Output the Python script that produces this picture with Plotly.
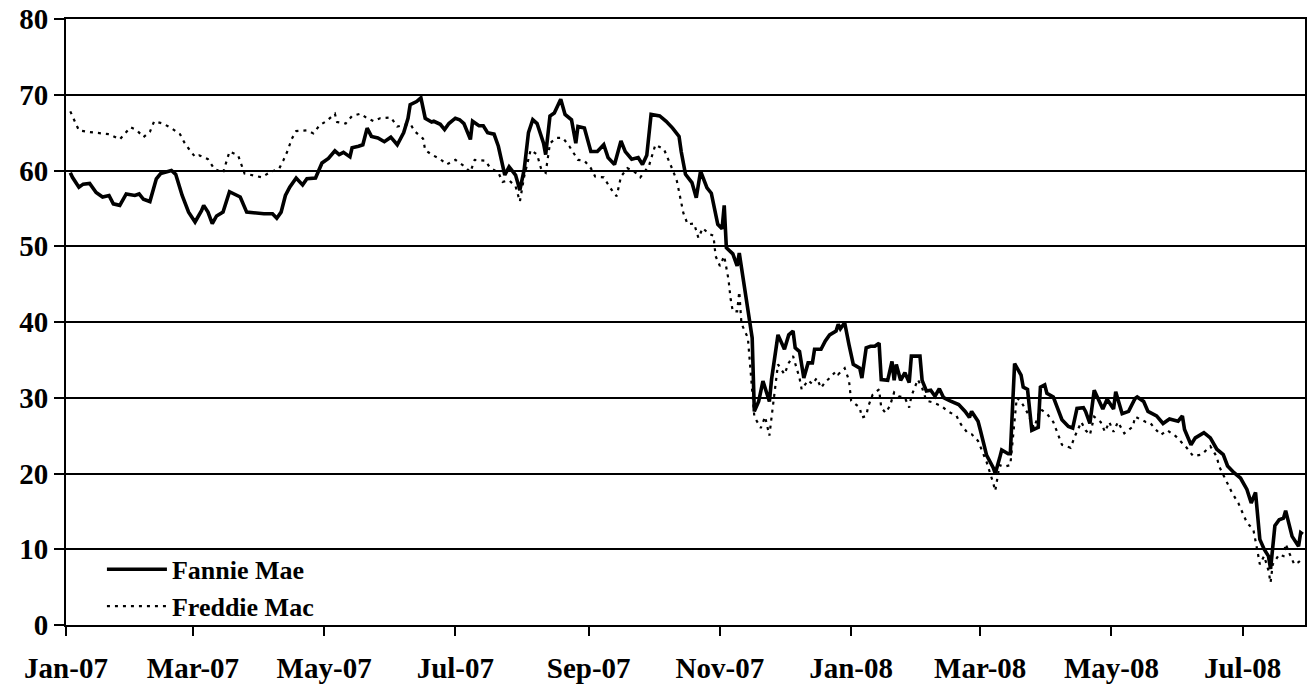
import plotly.graph_objects as go

fannie_dates = [
    "2007-01-03", "2007-01-04", "2007-01-07", "2007-01-09", "2007-01-12", "2007-01-15", "2007-01-18",
    "2007-01-21", "2007-01-23", "2007-01-26", "2007-01-29", "2007-02-02", "2007-02-04", "2007-02-06",
    "2007-02-09", "2007-02-12", "2007-02-14", "2007-02-19", "2007-02-21", "2007-02-24", "2007-02-27",
    "2007-03-02", "2007-03-05", "2007-03-06", "2007-03-08", "2007-03-10", "2007-03-12", "2007-03-15",
    "2007-03-18", "2007-03-21", "2007-03-23", "2007-03-26", "2007-03-29", "2007-04-03", "2007-04-07",
    "2007-04-09", "2007-04-11", "2007-04-13", "2007-04-15", "2007-04-18", "2007-04-21", "2007-04-23",
    "2007-04-27", "2007-04-30", "2007-05-03", "2007-05-06", "2007-05-08", "2007-05-10", "2007-05-13",
    "2007-05-14", "2007-05-17", "2007-05-19", "2007-05-21", "2007-05-23", "2007-05-26", "2007-05-29",
    "2007-06-01", "2007-06-04", "2007-06-07", "2007-06-09", "2007-06-10", "2007-06-13", "2007-06-15",
    "2007-06-17", "2007-06-20", "2007-06-21", "2007-06-24", "2007-06-26", "2007-06-28", "2007-07-01",
    "2007-07-03", "2007-07-05", "2007-07-08", "2007-07-09", "2007-07-12", "2007-07-14", "2007-07-16",
    "2007-07-19", "2007-07-21", "2007-07-22", "2007-07-24", "2007-07-26", "2007-07-29", "2007-07-31",
    "2007-08-02", "2007-08-04", "2007-08-06", "2007-08-08", "2007-08-11", "2007-08-12", "2007-08-14",
    "2007-08-16", "2007-08-19", "2007-08-21", "2007-08-24", "2007-08-26", "2007-08-27", "2007-08-30",
    "2007-09-02", "2007-09-05", "2007-09-08", "2007-09-10", "2007-09-13", "2007-09-16", "2007-09-18",
    "2007-09-21", "2007-09-24", "2007-09-26", "2007-09-28", "2007-09-30", "2007-10-04", "2007-10-07",
    "2007-10-10", "2007-10-13", "2007-10-14", "2007-10-16", "2007-10-19", "2007-10-21", "2007-10-23",
    "2007-10-26", "2007-10-28", "2007-10-31", "2007-11-02", "2007-11-03", "2007-11-04", "2007-11-07",
    "2007-11-09", "2007-11-10", "2007-11-12", "2007-11-14", "2007-11-16", "2007-11-17", "2007-11-19",
    "2007-11-21", "2007-11-24", "2007-11-25", "2007-11-28", "2007-12-01", "2007-12-03", "2007-12-05",
    "2007-12-06", "2007-12-08", "2007-12-10", "2007-12-12", "2007-12-14", "2007-12-15", "2007-12-18",
    "2007-12-20", "2007-12-22", "2007-12-25", "2007-12-26", "2007-12-27", "2007-12-29", "2007-12-31",
    "2008-01-02", "2008-01-05", "2008-01-06", "2008-01-08", "2008-01-10", "2008-01-12", "2008-01-14",
    "2008-01-15", "2008-01-18", "2008-01-20", "2008-01-21", "2008-01-22", "2008-01-24", "2008-01-26",
    "2008-01-28", "2008-01-29", "2008-02-02", "2008-02-03", "2008-02-05", "2008-02-07", "2008-02-09",
    "2008-02-11", "2008-02-13", "2008-02-16", "2008-02-18", "2008-02-20", "2008-02-23", "2008-02-25",
    "2008-02-26", "2008-02-29", "2008-03-01", "2008-03-03", "2008-03-04", "2008-03-07", "2008-03-08",
    "2008-03-10", "2008-03-11", "2008-03-14", "2008-03-15", "2008-03-17", "2008-03-20", "2008-03-21",
    "2008-03-23", "2008-03-25", "2008-03-28", "2008-03-29", "2008-03-31", "2008-04-01", "2008-04-04",
    "2008-04-06", "2008-04-08", "2008-04-11", "2008-04-13", "2008-04-15", "2008-04-18", "2008-04-19",
    "2008-04-21", "2008-04-23", "2008-04-25", "2008-04-27", "2008-04-29", "2008-05-01", "2008-05-02",
    "2008-05-03", "2008-05-05", "2008-05-06", "2008-05-09", "2008-05-12", "2008-05-13", "2008-05-16",
    "2008-05-18", "2008-05-20", "2008-05-22", "2008-05-25", "2008-05-28", "2008-06-01", "2008-06-03",
    "2008-06-04", "2008-06-07", "2008-06-09", "2008-06-13", "2008-06-16", "2008-06-19", "2008-06-22",
    "2008-06-24", "2008-06-27", "2008-06-30", "2008-07-03", "2008-07-05", "2008-07-07", "2008-07-08",
    "2008-07-09", "2008-07-11", "2008-07-13", "2008-07-14", "2008-07-15", "2008-07-16", "2008-07-18",
    "2008-07-20", "2008-07-21", "2008-07-23", "2008-07-24", "2008-07-27", "2008-07-28", "2008-07-29",
]
fannie_prices = [
    59.7, 59.1, 57.8, 58.2, 58.3, 57.1, 56.5,
    56.7, 55.6, 55.4, 56.9, 56.7, 56.9, 56.2,
    55.9, 58.9, 59.6, 60.0, 59.5, 56.7, 54.5,
    53.2, 54.7, 55.4, 54.5, 53.0, 54.0, 54.5,
    57.2, 56.8, 56.5, 54.5, 54.4, 54.3, 54.3,
    53.7, 54.5, 56.7, 57.8, 59.0, 58.1, 58.9,
    59.0, 61.0, 61.6, 62.6, 62.1, 62.4, 61.8,
    63.0, 63.2, 63.4, 65.6, 64.5, 64.3, 63.8,
    64.4, 63.4, 65.0, 66.9, 68.7, 69.1, 69.6,
    66.9, 66.4, 66.5, 66.1, 65.4, 66.2, 66.9,
    66.7, 66.2, 64.1, 66.5, 65.9, 65.9, 65.0,
    64.8, 63.2, 61.9, 59.4, 60.5, 59.4, 57.4,
    60.1, 65.0, 66.7, 66.2, 63.6, 62.1, 67.2,
    67.6, 69.4, 67.4, 66.7, 63.6, 65.8, 65.6,
    62.5, 62.5, 63.4, 61.7, 60.8, 63.9, 62.5,
    61.5, 61.7, 60.8, 62.0, 67.4, 67.2, 66.5,
    65.6, 64.5, 62.5, 59.5, 58.4, 56.4, 59.9,
    57.7, 57.0, 52.9, 52.3, 55.4, 49.8, 49.0,
    47.4, 49.1, 45.4, 41.0, 37.9, 28.2, 29.5,
    32.2, 29.5, 32.4, 38.3, 36.4, 38.3, 38.8,
    36.6, 36.1, 32.6, 34.6, 34.6, 36.4, 36.4,
    37.5, 38.3, 38.8, 39.7, 39.1, 39.9, 37.0,
    34.4, 33.9, 32.6, 36.6, 36.8, 36.8, 37.2,
    32.4, 32.3, 34.8, 32.3, 34.4, 32.3, 33.3,
    32.0, 35.5, 35.5, 32.3, 30.9, 31.0, 30.2,
    31.2, 30.0, 29.6, 29.4, 29.1, 28.2, 27.4,
    28.2, 26.9, 25.8, 23.4, 22.4, 20.8, 20.0,
    22.0, 23.1, 22.6, 22.6, 34.5, 33.0, 31.4,
    31.1, 25.7, 26.1, 31.4, 31.7, 30.6, 30.1,
    28.6, 27.1, 26.2, 26.0, 28.6, 28.7, 28.2,
    26.6, 31.0, 29.8, 28.5, 29.8, 28.9, 28.5,
    30.8, 29.1, 27.9, 28.2, 29.9, 30.1, 29.5,
    28.2, 27.9, 27.6, 26.6, 27.2, 26.9, 27.6,
    25.8, 23.8, 24.7, 25.4, 24.7, 23.2, 22.5,
    21.0, 20.1, 19.4, 17.9, 16.1, 17.5, 14.4,
    11.3, 10.0, 9.1, 7.4, 10.0, 13.1, 13.9,
    14.1, 15.1, 12.6, 11.7, 10.4, 12.2, 12.0,
]

freddie_dates = [
    "2007-01-03", "2007-01-05", "2007-01-07", "2007-01-11", "2007-01-16", "2007-01-21", "2007-01-26",
    "2007-01-29", "2007-01-31", "2007-02-03", "2007-02-06", "2007-02-09", "2007-02-11", "2007-02-15",
    "2007-02-19", "2007-02-23", "2007-02-25", "2007-02-27", "2007-03-02", "2007-03-04", "2007-03-08",
    "2007-03-11", "2007-03-15", "2007-03-18", "2007-03-22", "2007-03-25", "2007-03-29", "2007-04-02",
    "2007-04-06", "2007-04-10", "2007-04-12", "2007-04-14", "2007-04-16", "2007-04-18", "2007-04-23",
    "2007-04-26", "2007-04-29", "2007-05-02", "2007-05-06", "2007-05-07", "2007-05-11", "2007-05-14",
    "2007-05-18", "2007-05-21", "2007-05-24", "2007-05-27", "2007-06-01", "2007-06-04", "2007-06-10",
    "2007-06-12", "2007-06-16", "2007-06-17", "2007-06-20", "2007-06-24", "2007-06-27", "2007-07-01",
    "2007-07-05", "2007-07-08", "2007-07-10", "2007-07-15", "2007-07-17", "2007-07-21", "2007-07-23",
    "2007-07-26", "2007-07-29", "2007-07-31", "2007-08-02", "2007-08-05", "2007-08-08", "2007-08-10",
    "2007-08-12", "2007-08-14", "2007-08-17", "2007-08-20", "2007-08-23", "2007-08-26", "2007-08-27",
    "2007-08-30", "2007-09-02", "2007-09-04", "2007-09-08", "2007-09-11", "2007-09-14", "2007-09-16",
    "2007-09-19", "2007-09-22", "2007-09-25", "2007-09-29", "2007-10-02", "2007-10-06", "2007-10-08",
    "2007-10-10", "2007-10-12", "2007-10-14", "2007-10-15", "2007-10-17", "2007-10-20", "2007-10-22",
    "2007-10-24", "2007-10-27", "2007-10-29", "2007-10-30", "2007-11-01", "2007-11-03", "2007-11-05",
    "2007-11-06", "2007-11-07", "2007-11-09", "2007-11-10", "2007-11-11", "2007-11-14", "2007-11-17",
    "2007-11-20", "2007-11-22", "2007-11-24", "2007-11-25", "2007-11-28", "2007-12-01", "2007-12-03",
    "2007-12-05", "2007-12-08", "2007-12-09", "2007-12-12", "2007-12-14", "2007-12-16", "2007-12-18",
    "2007-12-20", "2007-12-22", "2007-12-25", "2007-12-26", "2007-12-29", "2007-12-31", "2008-01-01",
    "2008-01-05", "2008-01-06", "2008-01-08", "2008-01-09", "2008-01-11", "2008-01-14", "2008-01-15",
    "2008-01-17", "2008-01-19", "2008-01-21", "2008-01-23", "2008-01-26", "2008-01-28", "2008-01-29",
    "2008-02-01", "2008-02-03", "2008-02-05", "2008-02-08", "2008-02-12", "2008-02-15", "2008-02-19",
    "2008-02-21", "2008-02-24", "2008-02-26", "2008-02-29", "2008-03-02", "2008-03-04", "2008-03-07",
    "2008-03-08", "2008-03-10", "2008-03-12", "2008-03-15", "2008-03-18", "2008-03-20", "2008-03-23",
    "2008-03-26", "2008-03-29", "2008-04-01", "2008-04-04", "2008-04-06", "2008-04-08", "2008-04-12",
    "2008-04-14", "2008-04-17", "2008-04-19", "2008-04-21", "2008-04-23", "2008-04-26", "2008-04-28",
    "2008-04-30", "2008-05-02", "2008-05-04", "2008-05-07", "2008-05-11", "2008-05-12", "2008-05-17",
    "2008-05-19", "2008-05-21", "2008-05-24", "2008-05-27", "2008-05-31", "2008-06-02", "2008-06-05",
    "2008-06-08", "2008-06-12", "2008-06-16", "2008-06-19", "2008-06-20", "2008-06-24", "2008-06-26",
    "2008-06-29", "2008-07-01", "2008-07-03", "2008-07-06", "2008-07-07", "2008-07-08", "2008-07-09",
    "2008-07-11", "2008-07-13", "2008-07-14", "2008-07-15", "2008-07-18", "2008-07-20", "2008-07-21",
    "2008-07-23", "2008-07-25", "2008-07-27", "2008-07-29",
]
freddie_prices = [
    67.8, 66.6, 65.3, 65.1, 64.9, 64.8, 64.1,
    65.1, 65.7, 65.3, 64.4, 65.1, 66.5, 66.2,
    65.6, 64.8, 63.7, 62.9, 61.8, 62.0, 61.5,
    60.2, 59.7, 62.5, 62.0, 59.6, 59.3, 59.1,
    59.8, 60.2, 61.3, 62.6, 64.2, 65.2, 65.3,
    64.9, 66.0, 66.5, 67.5, 66.4, 66.2, 67.2,
    67.5, 66.9, 66.5, 66.9, 67.0, 65.8, 66.2,
    65.2, 64.2, 62.7, 62.1, 61.5, 60.8, 61.4,
    60.6, 59.8, 61.4, 61.3, 60.4, 59.7, 58.5,
    58.7, 57.9, 55.9, 59.2, 62.7, 62.1, 60.1,
    59.7, 63.6, 64.3, 64.3, 63.2, 61.9, 61.4,
    61.3, 60.3, 59.2, 59.1, 57.7, 56.6, 59.2,
    60.3, 59.9, 59.1, 60.6, 63.4, 62.8, 61.5,
    60.1, 58.6, 55.9, 54.4, 52.9, 53.0, 51.1,
    52.4, 51.6, 51.4, 48.7, 47.4, 48.7, 45.6,
    43.0, 41.4, 41.4, 44.0, 39.8, 37.9, 27.5,
    26.0, 27.5, 25.0, 27.4, 34.4, 33.1, 34.6,
    35.5, 32.6, 31.1, 32.3, 31.8, 32.6, 31.3,
    32.1, 32.6, 33.5, 33.1, 33.9, 32.3, 29.6,
    28.7, 27.4, 27.6, 28.9, 30.4, 31.1, 28.7,
    28.0, 28.9, 30.7, 30.2, 30.0, 28.7, 30.2,
    32.4, 31.3, 29.6, 29.4, 28.9, 28.2, 27.6,
    26.5, 25.4, 25.2, 24.3, 23.0, 21.5, 18.8,
    17.7, 21.1, 20.9, 21.1, 30.0, 29.5, 28.0,
    26.0, 28.5, 27.9, 26.8, 25.3, 23.8, 23.4,
    24.9, 26.8, 25.7, 25.1, 27.5, 26.8, 25.5,
    26.8, 25.5, 26.8, 25.3, 26.2, 27.5, 26.8,
    26.7, 26.0, 25.1, 25.7, 24.9, 24.3, 23.4,
    22.3, 22.5, 23.6, 22.2, 21.0, 18.8, 17.5,
    16.1, 14.8, 13.5, 12.6, 11.3, 9.6, 8.0,
    9.1, 7.2, 5.6, 8.0, 9.3, 9.1, 10.7,
    9.3, 8.0, 8.3, 8.8,
]

series_names = ["Fannie Mae", "Freddie Mac"]
x_range = ["2007-01-01", "2008-07-30"]
y_range = [0, 80]

FONT = "Liberation Serif, Times New Roman, serif"

fig = go.Figure()
fig.add_trace(go.Scatter(
    x=fannie_dates, y=fannie_prices, name=series_names[0], mode="lines",
    line=dict(color="black", width=3.6),
))
fig.add_trace(go.Scatter(
    x=freddie_dates, y=freddie_prices, name=series_names[1], mode="lines",
    line=dict(color="black", width=2.2, dash="3px,5px"),
))

fig.update_layout(
    width=1311, height=686,
    margin=dict(l=66, r=6, t=19, b=61),
    paper_bgcolor="white", plot_bgcolor="white",
    font=dict(family=FONT, color="black", size=28),
    showlegend=True,
    legend=dict(
        x=0.029, y=-0.008, xanchor="left", yanchor="bottom",
        bgcolor="rgba(0,0,0,0)", borderwidth=0,
        font=dict(family=FONT, size=26, color="black", weight="bold"),
        tracegroupgap=0, itemwidth=60,
    ),
)
fig.update_xaxes(
    type="date", range=x_range, automargin=False,
    tick0="2007-01-01", dtick="M2", tickformat="%b-%y",
    ticks="outside", ticklen=9, tickwidth=2, tickcolor="black",
    ticklabelstandoff=7,
    showline=True, linecolor="black", linewidth=2, mirror=True,
    showgrid=False, zeroline=False,
    tickfont=dict(family=FONT, size=29, color="black", weight="bold"),
)
fig.update_yaxes(
    range=y_range, dtick=10, automargin=False,
    ticks="outside", ticklen=10, tickwidth=2, tickcolor="black",
    showline=True, linecolor="black", linewidth=2, mirror=True,
    showgrid=True, gridcolor="black", gridwidth=1.8, zeroline=False,
    tickfont=dict(family=FONT, size=29, color="black", weight="bold"),
)

# remove the default 8px page margin so the figure fills the window exactly
fig.write_html(
    "out.html",
    config={"displayModeBar": False},
    post_script="document.body.style.margin='0px';",
)
